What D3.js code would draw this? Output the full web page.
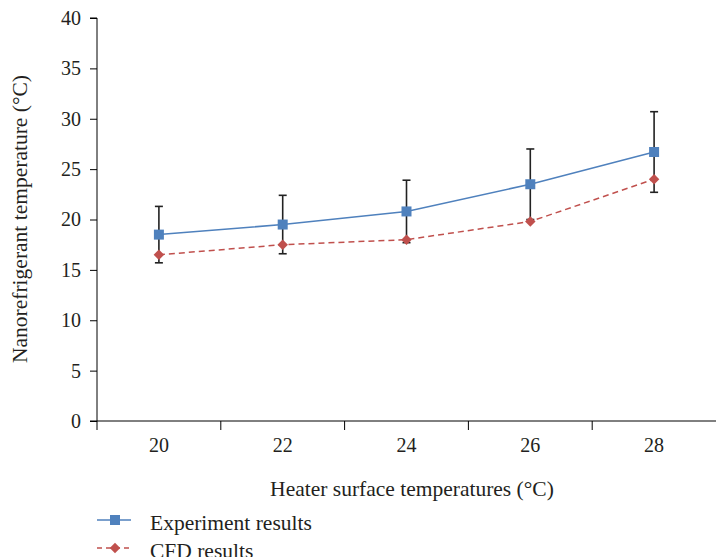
<!DOCTYPE html>
<html><head><meta charset="utf-8">
<script src="https://cdn.jsdelivr.net/npm/d3@7"></script>
</head><body style="margin:0;background:#fff">
<svg id="c" width="717" height="557"></svg>
<script>
const categories = ["20","22","24","26","28"];
const experiment = [18.5, 19.5, 20.8, 23.5, 26.7];
const cfd = [16.5, 17.5, 18.0, 19.8, 24.0];
const expError = [2.8, 2.9, 3.1, 3.5, 4.0];
const yTicks = [0,5,10,15,20,25,30,35,40];
const seriesNames = ["Experiment results","CFD results"];
const xTitle = "Heater surface temperatures (°C)";
const yTitle = "Nanorefrigerant temperature (°C)";

(function(){
const svg = d3.select("#c");
const mL = 97, mR = 716, mT = 18, mB = 421;
const x = d3.scaleBand().domain(categories).range([mL, mR]);
const y = d3.scaleLinear().domain([0, 40]).range([mB, mT]);
const blue = "#4F81BD", red = "#C0504D";
const styleText = (sel, fs) => sel.attr("font-family", null).style("font-family", '"Liberation Serif"').style("font-size", fs).style("fill", "#231F20");

// y axis
const ya = svg.append("g").attr("transform", `translate(${mL},0)`)
  .call(d3.axisLeft(y).tickValues(yTicks).tickSize(7).tickPadding(9));
ya.attr("font-family", null);
ya.selectAll("text").call(styleText, "20px");
ya.select(".domain").attr("d", `M-7,${mT}H0V${mB}`);
// x axis
const xa = svg.append("g").attr("transform", `translate(0,${mB})`)
  .call(d3.axisBottom(x).tickSize(0).tickPadding(17));
xa.attr("font-family", null);
xa.selectAll("text").call(styleText, "20px");
xa.select(".domain").attr("d", `M${mL-7},0H${mR}`);
xa.selectAll(".sep").data(categories).enter().append("line")
  .attr("x1", d => x(d)).attr("x2", d => x(d)).attr("y1", 0).attr("y2", 9)
  .attr("stroke", "#000");
svg.selectAll(".domain").attr("stroke","#000");
svg.selectAll(".tick line").attr("stroke","#000");

const cx = d => x(d) + x.bandwidth()/2;

// lines
svg.append("path").datum(categories)
  .attr("d", d3.line().x(d => cx(d)).y((d,i) => y(experiment[i])))
  .attr("fill","none").attr("stroke", blue).attr("stroke-width", 1.5);
svg.append("path").datum(categories)
  .attr("d", d3.line().x(d => cx(d)).y((d,i) => y(cfd[i])))
  .attr("fill","none").attr("stroke", red).attr("stroke-width", 1.5).attr("stroke-dasharray","6,4");

// error bars
const eb = svg.append("g").attr("stroke", "#222").attr("stroke-width", 1.6);
categories.forEach((c,i) => {
  const x0 = cx(c), y1 = y(experiment[i] + expError[i]), y2 = y(experiment[i] - expError[i]);
  eb.append("line").attr("x1",x0).attr("x2",x0).attr("y1",y1).attr("y2",y2);
  eb.append("line").attr("x1",x0-4).attr("x2",x0+4).attr("y1",y1).attr("y2",y1);
  eb.append("line").attr("x1",x0-4).attr("x2",x0+4).attr("y1",y2).attr("y2",y2);
});

// markers
const sq = d3.symbol().type(d3.symbolSquare).size(100);
const dm = d3.symbol().type(d3.symbolDiamond2).size(70);
svg.selectAll(".m1").data(categories).enter().append("path")
  .attr("d", sq).attr("transform", (d,i) => `translate(${cx(d)},${y(experiment[i])})`).attr("fill", blue);
svg.selectAll(".m2").data(categories).enter().append("path")
  .attr("d", dm).attr("transform", (d,i) => `translate(${cx(d)},${y(cfd[i])})`).attr("fill", red);

// titles
svg.append("text").attr("x", 412).attr("y", 496).attr("text-anchor","middle").call(styleText, "21.5px").text(xTitle);
svg.append("text").attr("transform", "translate(27,219) rotate(-90)").attr("text-anchor","middle").call(styleText, "21.5px").text(yTitle);

// legend
const lg = [[blue, null, sq], [red, "5,4", dm]];
lg.forEach((l,i) => {
  const yy = 520 + i*28;
  svg.append("line").attr("x1",97).attr("x2",131).attr("y1",yy).attr("y2",yy)
    .attr("stroke", l[0]).attr("stroke-width",1.5).attr("stroke-dasharray", l[1]);
  svg.append("path").attr("d", l[2]).attr("transform", `translate(115,${yy})`).attr("fill", l[0]);
  svg.append("text").attr("x",150).attr("y",yy+10).call(styleText, "21.5px").text(seriesNames[i]);
});
})();
</script>
</body></html>
